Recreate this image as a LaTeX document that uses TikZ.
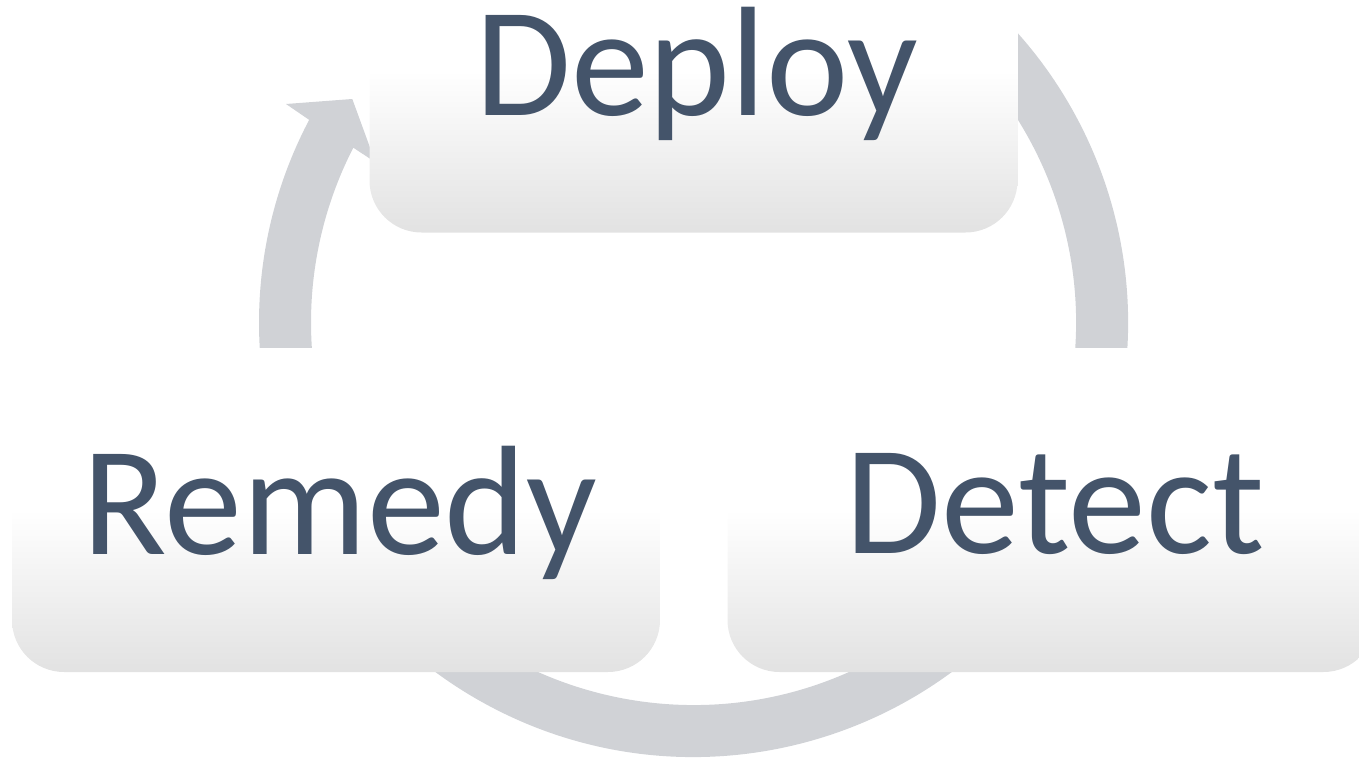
\documentclass[tikz,border=0pt]{standalone}
\usepackage{fontspec}
\setmainfont{Carlito}
\usetikzlibrary{calc}
\definecolor{ringgray}{RGB}{208,210,214}
\definecolor{boxgray}{RGB}{226,226,226}
\definecolor{txtblue}{RGB}{68,84,106}
\begin{document}
\begin{tikzpicture}[x=1pt,y=1pt,
  ring/.style={fill=ringgray},
  boxnode/.style={rectangle, rounded corners=52pt, minimum width=648pt, minimum height=324pt,
     inner sep=0pt, top color=white, bottom color=boxgray, middle color=white},
  labeltext/.style={text=txtblue, font=\fontsize{156pt}{160pt}\selectfont, inner sep=0pt, anchor=base}]
\useasboundingbox (0,0) rectangle (1359,-760);
\coordinate (C) at (693.5,-322.5);
\coordinate (barbout) at (286,-104);
\coordinate (tip) at (352.3,-99);
\coordinate (barbin) at (375.4,-162.3);
% left arc with arrowhead (one path)
\fill[ring] ([shift={(C)}]200:434.5) arc[start angle=200, end angle=152.2, radius=434.5]
   -- (barbout) -- (tip) -- (barbin)
   -- ([shift={(C)}]152.8:382.5) arc[start angle=152.8, end angle=200, radius=382.5] -- cycle;
% right arc
\fill[ring] ([shift={(C)}]70:434.5) arc[start angle=70, end angle=-20, radius=434.5]
   -- ([shift={(C)}]-20:382.5) arc[start angle=-20, end angle=70, radius=382.5] -- cycle;
% bottom arc
\fill[ring] ([shift={(C)}]-30:434.5) arc[start angle=-30, end angle=-150, radius=434.5]
   -- ([shift={(C)}]-150:382.5) arc[start angle=-150, end angle=-30, radius=382.5] -- cycle;
% boxes
\node[boxnode] (deployBox) at (693.5,-70.5) {};
\node[boxnode] (remedyBox) at (336,-510) {};
\node[boxnode] (detectBox) at (1051.5,-510) {};
% labels
\node[labeltext] (deploy) at (697,-115) {Deploy};
\node[labeltext] (remedy) at (340,-554) {Remedy};
\node[labeltext] (detect) at (1055,-553) {Detect};
\end{tikzpicture}
\end{document}
